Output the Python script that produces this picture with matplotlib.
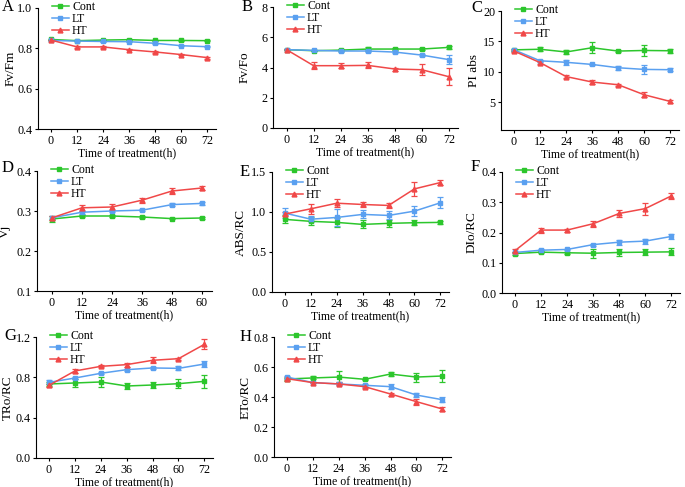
import numpy as np
import matplotlib.pyplot as plt
from matplotlib.lines import Line2D

plt.rcParams['font.family'] = 'Liberation Serif'
plt.rcParams['font.size'] = 9
plt.rcParams['axes.linewidth'] = 0.8

hours = [0, 12, 24, 36, 48, 60, 72]
hours_d = [0, 12, 24, 36, 48, 60]

# A  Fv/Fm
fvfm_cont = [0.844, 0.838, 0.841, 0.843, 0.839, 0.839, 0.838]
fvfm_lt = [0.839, 0.836, 0.834, 0.833, 0.825, 0.813, 0.808]
fvfm_ht = [0.841, 0.807, 0.807, 0.793, 0.782, 0.769, 0.754]
fvfm_cont_err = [0.003, 0.002, 0.002, 0.002, 0.002, 0.002, 0.002]
fvfm_lt_err = [0.003, 0.002, 0.002, 0.002, 0.003, 0.003, 0.003]
fvfm_ht_err = [0.002, 0.003, 0.003, 0.002, 0.003, 0.003, 0.005]

# B  Fv/Fo
fvfo_cont = [5.18, 5.11, 5.15, 5.22, 5.22, 5.22, 5.33]
fvfo_lt = [5.18, 5.13, 5.09, 5.09, 5.02, 4.82, 4.52]
fvfo_ht = [5.18, 4.12, 4.12, 4.14, 3.90, 3.85, 3.39]
fvfo_cont_err = [0.05, 0.05, 0.05, 0.12, 0.05, 0.05, 0.1]
fvfo_lt_err = [0.05, 0.05, 0.05, 0.08, 0.05, 0.08, 0.3]
fvfo_ht_err = [0.05, 0.25, 0.15, 0.2, 0.1, 0.35, 0.55]

# C  PIabs
pi_cont = [13.6, 13.7, 13.25, 13.95, 13.4, 13.5, 13.45]
pi_lt = [13.6, 11.8, 11.55, 11.2, 10.65, 10.38, 10.33]
pi_ht = [13.4, 11.5, 9.2, 8.3, 7.85, 6.2, 5.1]
pi_cont_err = [0.2, 0.3, 0.3, 0.9, 0.15, 0.9, 0.3]
pi_lt_err = [0.2, 0.15, 0.4, 0.15, 0.35, 0.7, 0.2]
pi_ht_err = [0.2, 0.2, 0.2, 0.4, 0.2, 0.4, 0.2]

# D  Vj
vj_cont = [0.280, 0.2875, 0.2875, 0.285, 0.281, 0.2825]
vj_lt = [0.283, 0.297, 0.300, 0.302, 0.316, 0.319]
vj_ht = [0.283, 0.308, 0.310, 0.327, 0.350, 0.3575]
vj_cont_err = [0.007, 0.003, 0.002, 0.002, 0.002, 0.003]
vj_lt_err = [0.004, 0.004, 0.003, 0.002, 0.003, 0.003]
vj_ht_err = [0.005, 0.008, 0.008, 0.006, 0.007, 0.005]

# E  ABS/RC
abs_cont = [0.908, 0.883, 0.870, 0.845, 0.858, 0.866, 0.870]
abs_lt = [0.986, 0.910, 0.932, 0.970, 0.957, 1.011, 1.115]
abs_ht = [0.974, 1.040, 1.110, 1.094, 1.082, 1.289, 1.368]
abs_cont_err = [0.05, 0.05, 0.06, 0.05, 0.04, 0.03, 0.02]
abs_lt_err = [0.06, 0.04, 0.11, 0.05, 0.05, 0.06, 0.07]
abs_ht_err = [0.02, 0.06, 0.05, 0.03, 0.03, 0.09, 0.03]

# F  DIo/RC
dio_cont = [0.1305, 0.135, 0.133, 0.1315, 0.134, 0.135, 0.136]
dio_lt = [0.134, 0.1415, 0.144, 0.160, 0.168, 0.1715, 0.187]
dio_ht = [0.140, 0.208, 0.208, 0.229, 0.263, 0.279, 0.321]
dio_cont_err = [0.004, 0.004, 0.004, 0.015, 0.012, 0.01, 0.012]
dio_lt_err = [0.003, 0.005, 0.003, 0.003, 0.008, 0.008, 0.007]
dio_ht_err = [0.005, 0.008, 0.005, 0.01, 0.012, 0.02, 0.01]

# G  TRo/RC
tro_cont = [0.734, 0.744, 0.754, 0.714, 0.724, 0.737, 0.760]
tro_lt = [0.750, 0.793, 0.840, 0.876, 0.893, 0.889, 0.932]
tro_ht = [0.720, 0.863, 0.909, 0.926, 0.969, 0.985, 1.127]
tro_cont_err = [0.02, 0.04, 0.05, 0.03, 0.03, 0.045, 0.065]
tro_lt_err = [0.02, 0.01, 0.01, 0.01, 0.01, 0.02, 0.03]
tro_ht_err = [0.015, 0.02, 0.01, 0.02, 0.03, 0.01, 0.05]

# H  ETo/RC
eto_cont = [0.520, 0.527, 0.533, 0.518, 0.553, 0.533, 0.540]
eto_lt = [0.533, 0.496, 0.487, 0.478, 0.469, 0.413, 0.382]
eto_ht = [0.522, 0.496, 0.487, 0.469, 0.420, 0.369, 0.320]
eto_cont_err = [0.01, 0.01, 0.04, 0.005, 0.015, 0.03, 0.04]
eto_lt_err = [0.01, 0.005, 0.01, 0.01, 0.015, 0.015, 0.015]
eto_ht_err = [0.01, 0.005, 0.01, 0.01, 0.01, 0.02, 0.015]

green = '#2cc62c'
blue = '#5aa0f0'
red = '#f04848'

W, H = 685, 487
fig = plt.figure(figsize=(W / 100, H / 100), dpi=100)


def make_ax(left, top, right, bottom):
    return fig.add_axes([left / W, 1 - bottom / H, (right - left) / W, (bottom - top) / H])


def panel(rect, x, cont, lt, ht, errs, ylim, yticks, yfmt, ylabel, letter,
          letter_xy, ylab_x, xmax=76):
    ax = make_ax(*rect)
    left, top, right, bottom = rect
    w, h = right - left, bottom - top
    styles = [(cont, errs[0], green, 's', 'Cont'),
              (lt, errs[1], blue, 's', 'LT'),
              (ht, errs[2], red, '^', 'HT')]
    handles = []
    for y, e, c, m, lab in styles:
        ax.errorbar(x, y, yerr=e, color=c, marker=m, ms=3.5, lw=1.1,
                    elinewidth=0.9, capsize=2, capthick=0.9)
        handles.append(Line2D([], [], color=c, marker=m, ms=3.5, lw=1.1, label=lab))
    ax.set_xlim(-6, xmax)
    ax.set_ylim(*ylim)
    ax.set_xticks(x)
    ax.set_yticks(yticks)
    ax.set_yticklabels([yfmt.format(v) for v in yticks])
    ax.spines['top'].set_visible(False)
    ax.spines['right'].set_visible(False)
    ax.tick_params(direction='out', length=2.5, width=0.8, pad=1.5, labelsize=8.7)
    ax.set_xlabel('Time of treatment(h)', labelpad=0.5, fontsize=8.5)
    ax.set_ylabel(ylabel, fontsize=9.5)
    ax.yaxis.set_label_coords((ylab_x - left) / w, 0.5)
    ax.yaxis.label.set_va('center')
    ax.legend(handles=handles, loc='upper left',
              bbox_to_anchor=(14 / w, 1 + 7 / h),
              frameon=False, handlelength=1.4, labelspacing=0.0,
              handletextpad=0.3, borderpad=0, borderaxespad=0, fontsize=8.5)
    fig.text(letter_xy[0] / W, 1 - letter_xy[1] / H, letter, fontsize=12,
             ha='left', va='center')
    return ax


panel((38, 8, 216, 129), hours, fvfm_cont, fvfm_lt, fvfm_ht,
      (fvfm_cont_err, fvfm_lt_err, fvfm_ht_err), (0.4, 1.0),
      [0.4, 0.6, 0.8, 1.0], '{:.1f}', 'Fv/Fm', 'A', (2, 7), 11)
panel((273, 7, 458, 128), hours, fvfo_cont, fvfo_lt, fvfo_ht,
      (fvfo_cont_err, fvfo_lt_err, fvfo_ht_err), (0, 8),
      [0, 2, 4, 6, 8], '{:.0f}', 'Fv/Fo', 'B', (242, 7), 245)
panel((501, 11, 679, 130), hours, pi_cont, pi_lt, pi_ht,
      (pi_cont_err, pi_lt_err, pi_ht_err), (0.4, 20),
      [5, 10, 15, 20], '{:.0f}', 'PI abs', 'C', (471, 8), 474)
panel((37, 171, 212, 291), hours_d, vj_cont, vj_lt, vj_ht,
      (vj_cont_err, vj_lt_err, vj_ht_err), (0.1, 0.4),
      [0.1, 0.2, 0.3, 0.4], '{:.1f}', 'Vj', 'D', (2, 168), 5, xmax=64)
panel((272, 172, 449, 292), hours, abs_cont, abs_lt, abs_ht,
      (abs_cont_err, abs_lt_err, abs_ht_err), (0, 1.5),
      [0, 0.5, 1.0, 1.5], '{:.1f}', 'ABS/RC', 'E', (240, 172), 241)
panel((502, 172, 680, 293), hours, dio_cont, dio_lt, dio_ht,
      (dio_cont_err, dio_lt_err, dio_ht_err), (0, 0.4),
      [0, 0.1, 0.2, 0.3, 0.4], '{:.1f}', 'DIo/RC', 'F', (471, 167), 472)
panel((36, 337, 213, 458), hours, tro_cont, tro_lt, tro_ht,
      (tro_cont_err, tro_lt_err, tro_ht_err), (0, 1.2),
      [0, 0.4, 0.8, 1.2], '{:.1f}', 'TRo/RC', 'G', (4, 336), 8)
panel((274, 337, 451, 457), hours, eto_cont, eto_lt, eto_ht,
      (eto_cont_err, eto_lt_err, eto_ht_err), (0, 0.8),
      [0, 0.2, 0.4, 0.6, 0.8], '{:.1f}', 'ETo/RC', 'H', (240, 337), 246)

fig.savefig('out.png', dpi=100)
